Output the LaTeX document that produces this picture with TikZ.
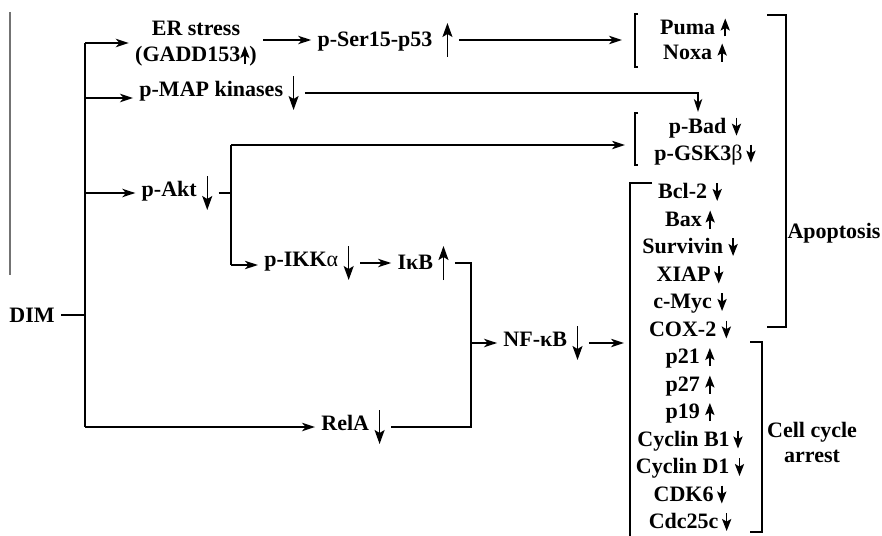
\documentclass[tikz,border=0pt]{standalone}
\usepackage{fontspec}
\setmainfont{Liberation Serif}
\usetikzlibrary{arrows.meta}

\tikzset{
    lbl/.style={font=\fontsize{11}{13}\selectfont\bfseries, align=center, inner sep=3pt},
    ln/.style={line width=0.8pt},
    arr/.style={line width=0.8pt, -{Stealth[length=6.5pt, width=4.2pt, inset=1.8pt]}},
    glyph/.style={line width=0.7pt, -{Stealth[length=7pt, width=5pt, inset=1.5pt]}},
    glyphsm/.style={line width=0.8pt, -{Stealth[length=6pt, width=4.6pt, inset=1.3pt]}}
}

\newcommand{\upa}{\tikz[baseline=-3.4pt]\draw[glyph] (0,-8.5pt) -- (0,8.5pt);}
\newcommand{\dna}{\tikz[baseline=-3.4pt]\draw[glyph] (0,7pt) -- (0,-10pt);}
\newcommand{\upb}{\tikz[baseline=-3.4pt]\draw[glyphsm] (0,-4.5pt) -- (0,4.5pt);}
\newcommand{\dnb}{\tikz[baseline=-3.4pt]\draw[glyphsm] (0,4.5pt) -- (0,-4.5pt);}

\begin{document}
\begin{tikzpicture}[x=0.5pt, y=-0.5pt]

    \useasboundingbox (0,0) rectangle (882,535);

    \node[lbl] (dim)  at (32,315)  {DIM};
    \node[lbl] (er)   at (196,44)  {ER stress\\(GADD153\upb)};
    \node[lbl] (ps)   at (385,40)  {p-Ser15-p53\hspace{5pt}\upa};
    \node[lbl] (pmap) at (219,93)  {p-MAP kinases~\dna};
    \node[lbl] (akt)  at (177,193) {p-Akt~\dna};
    \node[lbl] (ikk)  at (309,263) {p-IKK{\mdseries α}~\dna};
    \node[lbl] (ikb)  at (423,263) {IκB~\upa};
    \node[lbl] (nfkb) at (543,343) {NF-κB~\dna};
    \node[lbl] (rela) at (353,427) {RelA~\dna};

    \node[lbl, font=\fontsize{11}{12.5}\selectfont\bfseries]  (puma)  at (695,40)  {Puma~\upb\\Noxa~\upb};
    \node[lbl, font=\fontsize{11}{13.5}\selectfont\bfseries]  (bad)   at (705,141) {p-Bad~\dnb\\p-GSK3{\mdseries β}\,\dnb};
    \node[lbl, font=\fontsize{11}{13.75}\selectfont\bfseries] (genes) at (690,357)
        {Bcl-2~\dnb\\Bax\,\upb\\Survivin~\dnb\\XIAP\,\dnb\\c-Myc~\dnb\\COX-2~\dnb\\p21~\upb\\p27~\upb\\p19~\upb\\Cyclin B1\,\dnb\\Cyclin D1~\dnb\\CDK6\,\dnb\\Cdc25c\,\dnb};
    \node[lbl] (apo) at (834,233) {Apoptosis};
    \node[lbl, font=\fontsize{11}{12.5}\selectfont\bfseries] (cca) at (812,442) {Cell cycle\\arrest};

    \coordinate (jer)    at (85,43);
    \coordinate (jmap)   at (85,98);
    \coordinate (jakt)   at (85,193);
    \coordinate (jdim)   at (85,315);
    \coordinate (jrel)   at (85,427);
    \coordinate (atop)   at (231,145);
    \coordinate (abot)   at (231,265);
    \coordinate (jnf)    at (471,343);
    \coordinate (jrl)    at (471,427);
    \coordinate (pumain) at (622,40);
    \coordinate (badin)  at (698,112);
    \coordinate (gskin)  at (625,145);
    \coordinate (genin)  at (624,343);

    \draw[black!55, line width=1pt] (10,12) -- (10,275);

    \draw[ln] (dim) -- (jdim);
    \draw[ln] (jer) -- (jrel);
    \draw[arr] (jer) -- (jer -| er.west);
    \draw[arr] (jmap) -- (jmap -| pmap.west);
    \draw[arr] (jakt) -- (jakt -| akt.west);
    \draw[arr] (jrel) -- (rela);

    \draw[arr] (er.east |- ps) -- (ps);
    \draw[arr] (ps) -- (pumain);
    \draw[arr] (pmap) -| (badin);

    \draw[ln] (akt) -- (akt -| atop);
    \draw[ln] (atop) -- (abot);
    \draw[arr] (atop) -- (gskin);
    \draw[arr] (abot) -- (abot -| ikk.west);
    \draw[arr] (ikk) -- (ikb);

    \draw[ln] (ikb) -| (jrl) -- (rela);
    \draw[arr] (jnf) -- (nfkb);
    \draw[arr] (nfkb) -- (genin);

    \draw[ln] (638,14) -| (635,67) -- (638,67);
    \draw[ln] (638,113) -| (635,165) -- (638,165);
    \draw[ln] (652,183) -| (630,536);
    \draw[ln] (767,15) -| (786,327) -- (767,327);
    \draw[ln] (750,342) -| (762,532) -- (750,532);

\end{tikzpicture}
\end{document}
